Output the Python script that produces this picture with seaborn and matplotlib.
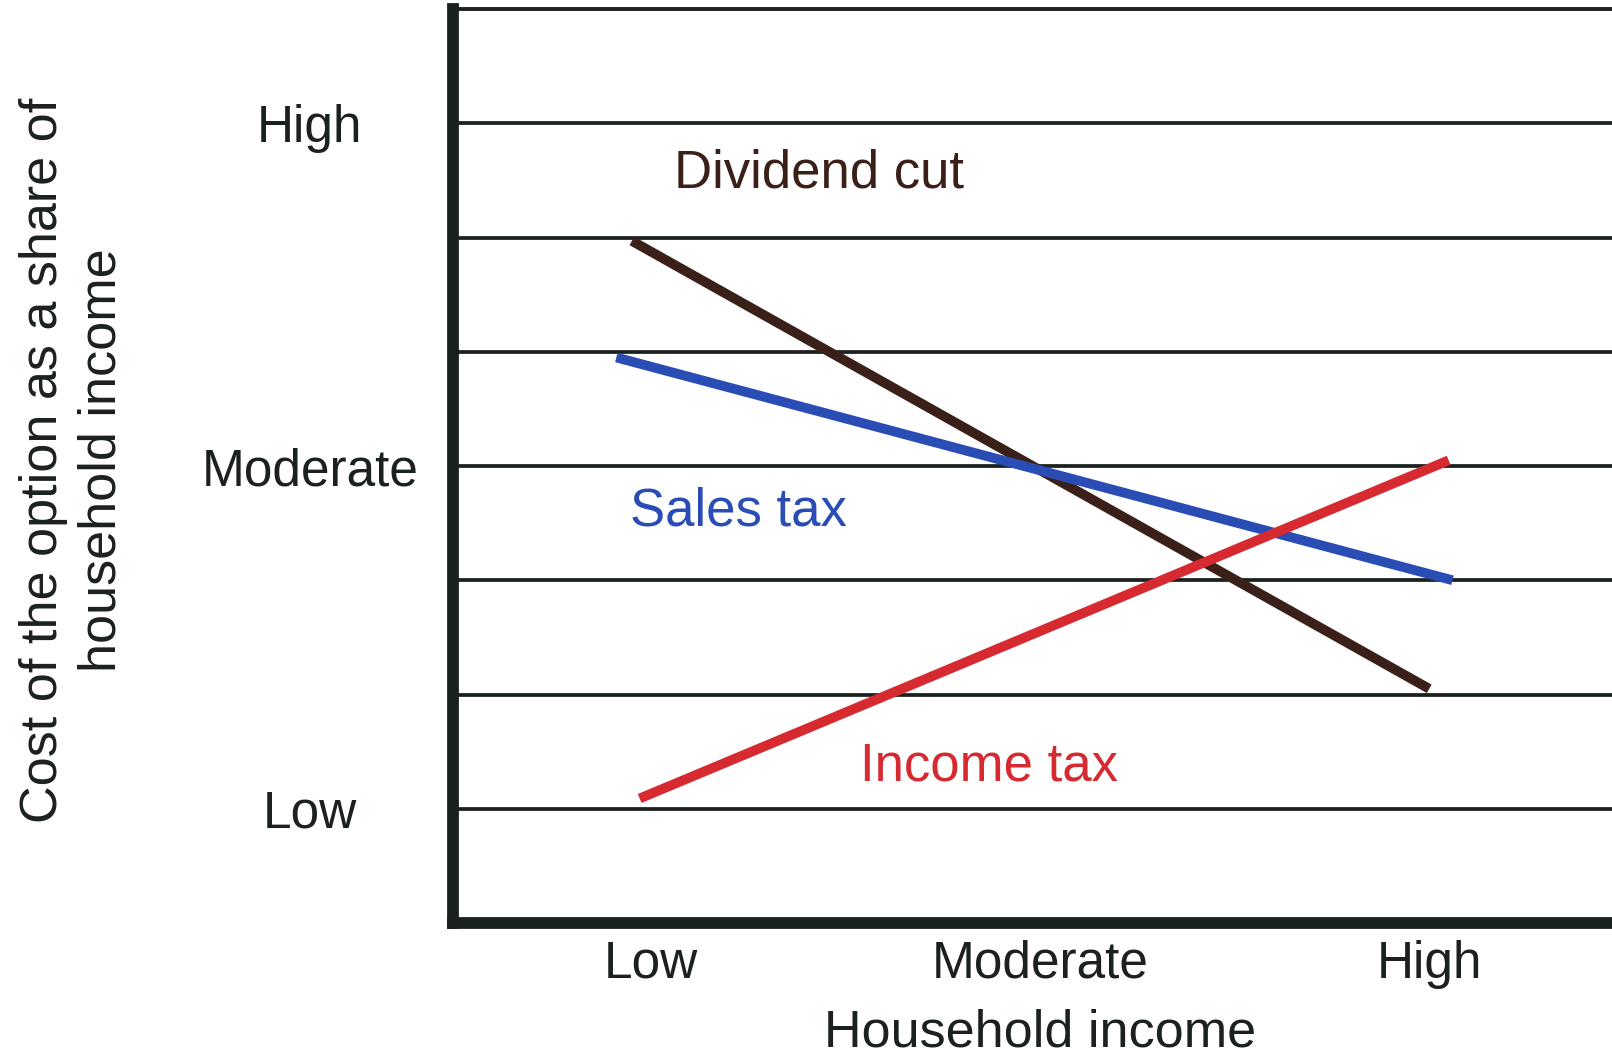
import matplotlib
matplotlib.use("Agg")
import matplotlib.pyplot as plt
import seaborn as sns
import pandas as pd

# Household income levels (x) and relative cost levels (y)
income_levels = ["Low", "Moderate", "High"]
income_ticks = [1, 2, 3]
cost_labels = ["Low", "", "", "Moderate", "", "", "High"]
cost_ticks = [1, 2, 3, 4, 5, 6, 7]

# Endpoints of each option's cost line
dividend_x = [0.95, 3.0]
dividend_y = [5.97, 2.05]
sales_x = [0.91, 3.06]
sales_y = [4.95, 3.0]
income_x = [0.97, 3.05]
income_y = [1.09, 4.05]

series_names = ["Dividend cut", "Sales tax", "Income tax"]
series_colors = ["#3a2018", "#2a4db5", "#d62a30"]

df = pd.concat([
    pd.DataFrame({"income": dividend_x, "cost": dividend_y, "option": "Dividend cut"}),
    pd.DataFrame({"income": sales_x, "cost": sales_y, "option": "Sales tax"}),
    pd.DataFrame({"income": income_x, "cost": income_y, "option": "Income tax"}),
], ignore_index=True)

sns.set_theme(style="white")
plt.rcParams["font.family"] = ["Liberation Sans", "DejaVu Sans"]

ink = "#1b211f"
fig = plt.figure(figsize=(16.12, 10.57), dpi=100)
ax = fig.add_axes([453 / 1612, 1 - 923 / 1057, 1 - 453 / 1612, 914 / 1057])

sns.lineplot(data=df, x="income", y="cost", hue="option",
             palette=dict(zip(series_names, series_colors)),
             hue_order=series_names, sort=False, estimator=None,
             linewidth=7, legend=False, ax=ax, zorder=3,
             solid_capstyle="butt")

ax.set_xlim(0.49, 3.47)
ax.set_ylim(0, 8)

ax.set_yticks(cost_ticks)
ax.set_yticklabels(cost_labels)
ax.set_xticks(income_ticks)
ax.set_xticklabels(income_levels)
ax.yaxis.grid(True, color=ink, linewidth=2.7)
ax.xaxis.grid(False)
ax.tick_params(axis="both", length=0, labelsize=37, colors=ink)
ax.tick_params(axis="y", pad=103)
ax.tick_params(axis="x", pad=12)
for lab in ax.get_yticklabels():
    lab.set_horizontalalignment("center")

for side in ["left", "bottom"]:
    ax.spines[side].set_linewidth(8.5)
    ax.spines[side].set_color(ink)
ax.spines["top"].set_linewidth(2.8)
ax.spines["top"].set_color(ink)
ax.spines["right"].set_visible(False)

ax.set_xlabel("Household income", fontsize=37.5, color=ink, va="top")
ax.xaxis.set_label_coords(0.5065, -0.094)
ax.set_ylabel("Cost of the option as a share of\nhousehold income",
              fontsize=37.5, color=ink, va="center", ha="center", linespacing=1.25)
ax.yaxis.set_label_coords(-0.328, 0.5066)

label_pos = {"Dividend cut": (1.432, 6.56), "Sales tax": (1.224, 3.6), "Income tax": (1.869, 1.37)}
for name, color in zip(series_names, series_colors):
    x, y = label_pos[name]
    ax.text(x, y, name, color=color, fontsize=38, ha="center", va="center", zorder=4)

fig.savefig("out.png", dpi=100, facecolor="white")
